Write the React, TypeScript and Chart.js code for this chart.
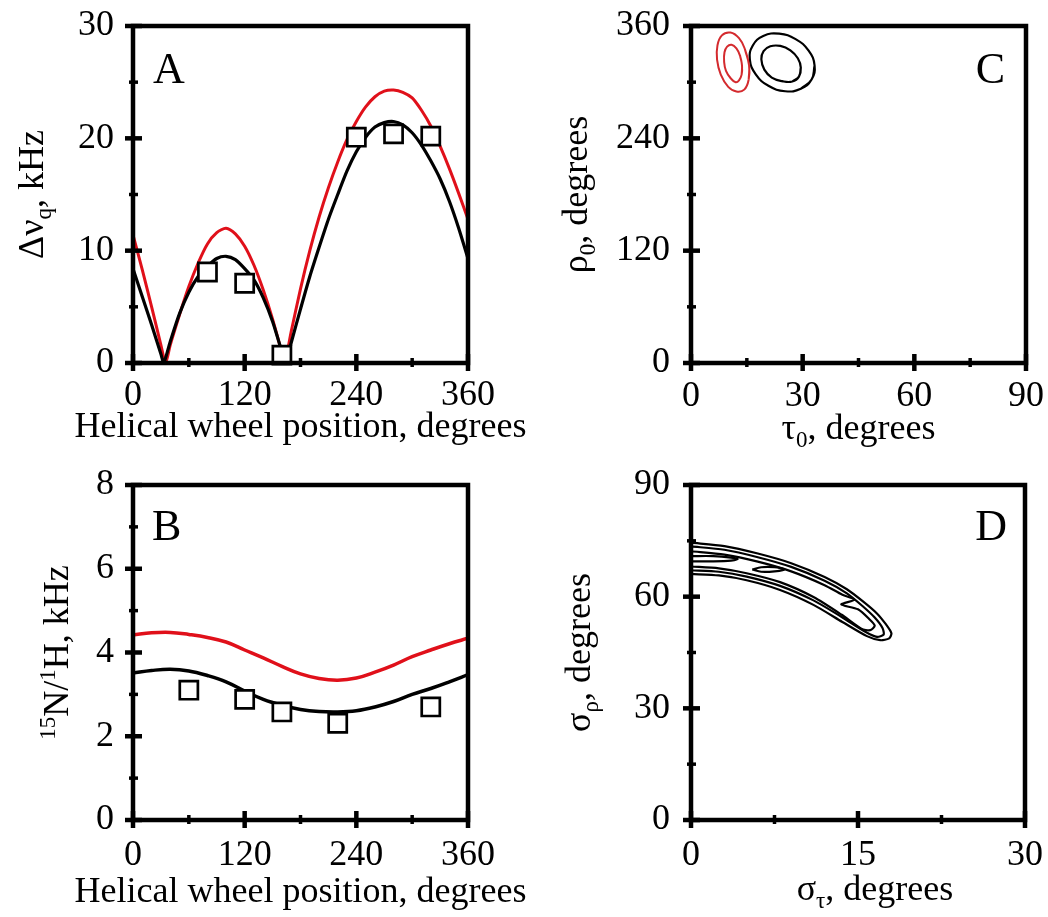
import { useEffect, useRef } from 'react';
import { Chart, registerables } from 'chart.js';
Chart.register(...registerables);

const FONT = '"Liberation Serif", "Times New Roman", serif';

// ---------- Panel A : quadrupolar splittings ----------
const A_BLACK_X = [0,10,20,30,33,40,50,60,70,80,90,100,110,120,130,140,150,160,164,170,180,190,200,210,220,230,240,250,260,270,280,290,300,310,320,330,340,350,360];
const A_BLACK_Y = [8.4,5.9,3.4,0.8,0,1.9,4.4,6.3,7.7,8.6,9.3,9.5,9.2,8.4,7.4,5.8,3.7,1.0,0,1.8,4.8,7.7,10.3,12.8,15.0,17.1,18.8,20.1,21.0,21.4,21.5,21.2,20.5,19.4,18.0,16.4,14.4,12.0,9.3];
const A_RED_X = [0,10,20,30,35,40,50,60,70,80,90,100,110,120,130,140,150,160,163,170,180,190,200,210,220,230,240,250,260,270,280,290,300,310,320,330,340,350,360];
const A_RED_Y = [11.4,8.3,5.0,1.6,0,1.6,4.3,6.8,8.9,10.6,11.6,12.0,11.5,10.4,8.7,6.5,3.9,0.9,0,2.8,6.6,10.0,13.0,15.6,17.9,19.9,21.5,22.8,23.7,24.2,24.3,24.1,23.6,22.5,21.1,19.3,17.3,15.1,12.8];
const A_PTS_X = [80,120,160,240,280,320];
const A_PTS_Y = [8.1,7.1,0.7,20.1,20.4,20.2];

// ---------- Panel B : 15N/1H dipolar couplings ----------
const B_X = [0,20,40,60,80,100,120,140,160,180,200,220,240,260,280,300,320,340,360];
const B_BLACK = [3.51,3.57,3.60,3.56,3.45,3.30,3.08,2.88,2.74,2.64,2.59,2.58,2.61,2.70,2.83,3.00,3.14,3.30,3.47];
const B_RED = [4.42,4.47,4.48,4.43,4.36,4.25,4.06,3.87,3.67,3.49,3.38,3.34,3.39,3.53,3.70,3.90,4.06,4.21,4.34];
const B_PTS_X = [60,120,160,220,320];
const B_PTS_Y = [3.10,2.88,2.58,2.31,2.70];

// ---------- Panel C : tau0 / rho0 contours ----------
type Pt = [number, number];
const C_RED_OUTER: Pt[] = [[15.6,318],[15.5,303],[14.3,292],[12.2,290],[10.0,295],[8.0,308],[7.0,324],[7.1,339],[8.3,350],[10.6,353],[12.9,347],[14.5,335]];
const C_RED_INNER: Pt[] = [[13.7,318],[13.6,308],[12.9,302],[12.0,300],[10.7,304],[9.4,312],[8.9,322],[9.0,332],[9.7,338],[10.9,340],[12.2,336],[13.2,328]];
const C_BLACK_OUTER: Pt[] = [[32.4,302.9],[29.5,292.9],[25.3,290.3],[20.8,296.1],[17.4,308.4],[15.8,324.3],[16.6,339.2],[19.4,349.3],[23.7,351.8],[28.1,346.0],[31.6,333.6],[33.2,317.8]];
const C_BLACK_INNER: Pt[] = [[29.0,306.0],[27.2,300.7],[24.5,301.1],[21.7,304.9],[19.7,313.4],[18.9,324.4],[19.5,333.1],[21.3,338.3],[24.0,338.7],[26.7,334.0],[28.7,325.5],[29.5,315.6]];

// ---------- Panel D : sigma contours ----------
const D_C1: Pt[] = [[0,74.5],[3,73.6],[6,71.6],[9,69.0],[12,65.3],[14,62.0],[15.5,58.6],[16.7,55.5],[17.5,52.6],[18.0,50.2],[17.8,48.8],[17.0,48.3],[15.8,49.4],[13.6,53.2],[11,57.8],[8,61.8],[5,64.4],[2.5,65.7],[0,66.1]];
const D_C2: Pt[] = [[0,73.5],[3,72.6],[6,70.6],[9,68.0],[12,64.3],[14,60.9],[15.4,57.5],[16.5,54.4],[17.2,51.6],[17.3,49.8],[16.7,49.2],[15.7,50.5],[13.5,54.6],[11,59.0],[8,62.9],[5,65.4],[2.5,66.7],[0,67.1]];
const D_C3: Pt[] = [[0,72.2],[3,71.3],[6,69.4],[9,66.8],[12,63.1],[13.6,60.5],[14.7,59.2],[13.5,57.9],[15.0,56.6],[16.0,54.0],[16.5,52.2],[16.1,51.0],[15.3,51.4],[13.5,55.2],[11,59.9],[8,63.9],[5,66.3],[2.5,67.6],[0,68.1]];
const D_I1: Pt[] = [[0,70.9],[2,70.9],[3.6,70.5],[4.2,70.1],[3.6,69.7],[2,69.5],[0,69.5]];
const D_I2: Pt[] = [[5.5,67.3],[6.3,67.9],[7.5,67.9],[8.4,67.3],[7.5,66.8],[6.3,66.7],[5.5,67.3]];

// ---------- tick values ----------
const HELIX_TICKS = [0,120,240,360];
const HELIX_MINOR = [60,180,300];
const A_Y_TICKS = [0,10,20,30];
const A_Y_MINOR = [5,15,25];
const B_Y_TICKS = [0,2,4,6,8];
const B_Y_MINOR = [1,3,5,7];
const C_X_TICKS = [0,30,60,90];
const C_X_MINOR = [15,45,75];
const C_Y_TICKS = [0,120,240,360];
const C_Y_MINOR = [60,180,300];
const D_X_TICKS = [0,15,30];
const D_X_MINOR = [7.5,22.5];
const D_Y_TICKS = [0,30,60,90];
const D_Y_MINOR = [15,45,75];

type Part = { t: string; s?: 'sub' | 'sup' };

const HELIX_TITLE: Part[] = [{ t: 'Helical wheel position, degrees' }];
const A_Y_TITLE: Part[] = [{ t: '\u0394\u03bd' }, { t: 'q', s: 'sub' }, { t: ', kHz' }];
const B_Y_TITLE: Part[] = [{ t: '15', s: 'sup' }, { t: 'N/' }, { t: '1', s: 'sup' }, { t: 'H, kHz' }];
const C_X_TITLE: Part[] = [{ t: '\u03c4' }, { t: '0', s: 'sub' }, { t: ', degrees' }];
const C_Y_TITLE: Part[] = [{ t: '\u03c1' }, { t: '0', s: 'sub' }, { t: ', degrees' }];
const D_X_TITLE: Part[] = [{ t: '\u03c3' }, { t: '\u03c4', s: 'sub' }, { t: ', degrees' }];
const D_Y_TITLE: Part[] = [{ t: '\u03c3' }, { t: '\u03c1', s: 'sub' }, { t: ', degrees' }];

const RED = '#e0101a';
const CRED = '#d42a2e';

const xy = (xs: number[], ys: number[]) => xs.map((x, i) => ({ x, y: ys[i] }));
const pts = (p: Pt[]) => p.map(([x, y]) => ({ x, y }));
const loop = (p: Pt[]) => pts([p[p.length - 1], ...p, p[0], p[1]]);

const lineDs = (data: any[], color: string, width: number, tension: number) => ({
  data, showLine: true, pointRadius: 0, borderColor: color, borderWidth: width, tension, fill: false,
});
const squareDs = (data: any[]) => ({
  data, showLine: false, pointStyle: 'rect', pointRadius: 12.8, pointBackgroundColor: '#fff',
  pointBorderColor: '#000', pointBorderWidth: 2.7, clip: 12,
});

function drawRich(ctx: CanvasRenderingContext2D, parts: Part[], cx: number, cy: number, size: number, rotate: boolean) {
  ctx.save();
  ctx.translate(cx, cy);
  if (rotate) ctx.rotate(-Math.PI / 2);
  ctx.textBaseline = 'alphabetic';
  ctx.textAlign = 'left';
  const sz = (p: Part) => (p.s ? size * 0.64 : size);
  let w = 0;
  for (const p of parts) { ctx.font = `${sz(p)}px ${FONT}`; w += ctx.measureText(p.t).width; }
  let x = -w / 2;
  for (const p of parts) {
    ctx.font = `${sz(p)}px ${FONT}`;
    const dy = p.s === 'sub' ? size * 0.22 : p.s === 'sup' ? -size * 0.36 : 0;
    ctx.fillText(p.t, x, dy);
    x += ctx.measureText(p.t).width;
  }
  ctx.restore();
}

interface Spec {
  key: string; left: number; top: number; w: number; h: number;
  area: { l: number; t: number; r: number; b: number };
  x: [number, number]; y: [number, number];
  xTicks: number[]; xMinor: number[]; yTicks: number[]; yMinor: number[];
  xPad: number; yPad: number;
  xTitle: Part[]; yTitle: Part[]; xTitleOff: number; xTitleDx: number; yTitleOff: number;
  letter: string; letterRight: boolean; letterDx: number; letterDy: number;
  datasets: any[];
}

const SPECS: Spec[] = [
  {
    key: 'A', left: 0, top: 0, w: 545, h: 460, area: { l: 133, t: 26, r: 468, b: 363 },
    x: [0, 360], y: [0, 30], xTicks: HELIX_TICKS, xMinor: HELIX_MINOR, yTicks: A_Y_TICKS, yMinor: A_Y_MINOR,
    xPad: 11, yPad: 19, xTitle: HELIX_TITLE, yTitle: A_Y_TITLE, xTitleOff: 74, xTitleDx: 0, yTitleOff: 90,
    letter: 'A', letterRight: false, letterDx: 20, letterDy: 57,
    datasets: [squareDs(xy(A_PTS_X, A_PTS_Y)), lineDs(xy(A_BLACK_X, A_BLACK_Y), '#000', 3.2, 0.25), lineDs(xy(A_RED_X, A_RED_Y), RED, 3, 0.25)],
  },
  {
    key: 'B', left: 0, top: 460, w: 545, h: 457, area: { l: 133, t: 25, r: 468, b: 360 },
    x: [0, 360], y: [0, 8], xTicks: HELIX_TICKS, xMinor: HELIX_MINOR, yTicks: B_Y_TICKS, yMinor: B_Y_MINOR,
    xPad: 14, yPad: 19, xTitle: HELIX_TITLE, yTitle: B_Y_TITLE, xTitleOff: 82, xTitleDx: 0, yTitleOff: 65,
    letter: 'B', letterRight: false, letterDx: 19, letterDy: 55,
    datasets: [squareDs(xy(B_PTS_X, B_PTS_Y)), lineDs(xy(B_X, B_BLACK), '#000', 3.5, 0.4), lineDs(xy(B_X, B_RED), RED, 3.5, 0.4)],
  },
  {
    key: 'C', left: 545, top: 0, w: 503, h: 460, area: { l: 146, t: 26, r: 481, b: 363 },
    x: [0, 90], y: [0, 360], xTicks: C_X_TICKS, xMinor: C_X_MINOR, yTicks: C_Y_TICKS, yMinor: C_Y_MINOR,
    xPad: 12, yPad: 21, xTitle: C_X_TITLE, yTitle: C_Y_TITLE, xTitleOff: 76, xTitleDx: 0, yTitleOff: 104,
    letter: 'C', letterRight: true, letterDx: 21, letterDy: 57,
    datasets: [
      lineDs(loop(C_RED_OUTER), CRED, 2, 0.45), lineDs(loop(C_RED_INNER), CRED, 2, 0.45),
      lineDs(loop(C_BLACK_OUTER), '#000', 2.2, 0.45), lineDs(loop(C_BLACK_INNER), '#000', 2.2, 0.45),
    ],
  },
  {
    key: 'D', left: 545, top: 460, w: 503, h: 457, area: { l: 146, t: 25, r: 480, b: 360 },
    x: [0, 30], y: [0, 90], xTicks: D_X_TICKS, xMinor: D_X_MINOR, yTicks: D_Y_TICKS, yMinor: D_Y_MINOR,
    xPad: 14, yPad: 21, xTitle: D_X_TITLE, yTitle: D_Y_TITLE, xTitleOff: 80, xTitleDx: 17, yTitleOff: 101,
    letter: 'D', letterRight: true, letterDx: 18, letterDy: 55,
    datasets: [
      lineDs(pts(D_C1), '#000', 2.2, 0.25), lineDs(pts(D_C2), '#000', 2.2, 0.25), lineDs(pts(D_C3), '#000', 2.2, 0.25),
      lineDs(pts(D_I1), '#000', 2.2, 0.3), lineDs(pts(D_I2), '#000', 2.2, 0.3),
    ],
  },
];

function framePlugin(s: Spec) {
  return {
    id: 'frame' + s.key,
    afterDraw(chart: any) {
      const { ctx, chartArea: a } = chart;
      const xs = chart.scales.x, ys = chart.scales.y;
      ctx.save();
      ctx.strokeStyle = '#000';
      ctx.lineCap = 'butt';
      const xt = (vals: number[], out: number, inn: number, w: number) => {
        ctx.lineWidth = w;
        for (const v of vals) {
          const p = xs.getPixelForValue(v);
          ctx.beginPath(); ctx.moveTo(p, a.bottom + out); ctx.lineTo(p, a.bottom - inn); ctx.stroke();
        }
      };
      const yt = (vals: number[], out: number, inn: number, w: number) => {
        ctx.lineWidth = w;
        for (const v of vals) {
          const p = ys.getPixelForValue(v);
          ctx.beginPath(); ctx.moveTo(a.left - out, p); ctx.lineTo(a.left + inn, p); ctx.stroke();
        }
      };
      xt(s.xTicks, 8, 9, 4.5); xt(s.xMinor, 4, 5, 3.5);
      yt(s.yTicks, 8, 9, 4.5); yt(s.yMinor, 4, 5, 3.5);
      ctx.lineWidth = 4.5;
      ctx.strokeRect(a.left, a.top, a.right - a.left, a.bottom - a.top);
      ctx.fillStyle = '#000';
      drawRich(ctx, s.xTitle, (a.left + a.right) / 2 + s.xTitleDx, a.bottom + s.xTitleOff, 36, false);
      drawRich(ctx, s.yTitle, a.left - s.yTitleOff, (a.top + a.bottom) / 2, 36, true);
      ctx.font = `44px ${FONT}`;
      ctx.textBaseline = 'alphabetic';
      if (s.letterRight) { ctx.textAlign = 'right'; ctx.fillText(s.letter, a.right - s.letterDx, a.top + s.letterDy); }
      else { ctx.textAlign = 'left'; ctx.fillText(s.letter, a.left + s.letterDx, a.top + s.letterDy); }
      ctx.restore();
    },
  };
}

function buildConfig(s: Spec): any {
  const tickFont = { family: FONT, size: 36 };
  return {
    type: 'scatter',
    data: { datasets: s.datasets },
    plugins: [framePlugin(s)],
    options: {
      responsive: false,
      animation: false,
      events: [],
      layout: { padding: { left: 0, top: s.area.t, right: s.w - s.area.r, bottom: 0 } },
      plugins: { legend: { display: false }, tooltip: { enabled: false } },
      scales: {
        x: {
          type: 'linear', min: s.x[0], max: s.x[1],
          afterBuildTicks: (sc: any) => { sc.ticks = s.xTicks.map((v) => ({ value: v })); },
          afterFit: (sc: any) => {
            sc.height = s.h - s.area.b;
            sc.paddingLeft = 0; sc.paddingRight = 0; sc.paddingTop = 0; sc.paddingBottom = 0;
          },
          grid: { display: false, drawTicks: false }, border: { display: false },
          ticks: { font: tickFont, color: '#000', padding: s.xPad, maxRotation: 0, autoSkip: false },
        },
        y: {
          type: 'linear', min: s.y[0], max: s.y[1],
          afterBuildTicks: (sc: any) => { sc.ticks = s.yTicks.map((v) => ({ value: v })); },
          afterFit: (sc: any) => {
            sc.width = s.area.l;
            sc.paddingLeft = 0; sc.paddingRight = 0; sc.paddingTop = 0; sc.paddingBottom = 0;
          },
          grid: { display: false, drawTicks: false }, border: { display: false },
          ticks: { font: tickFont, color: '#000', padding: s.yPad, autoSkip: false },
        },
      },
    },
  };
}

export default function App() {
  const refs = [useRef<HTMLCanvasElement>(null), useRef<HTMLCanvasElement>(null), useRef<HTMLCanvasElement>(null), useRef<HTMLCanvasElement>(null)];
  useEffect(() => {
    const charts = SPECS.map((s, i) => new Chart(refs[i].current as HTMLCanvasElement, buildConfig(s)));
    return () => charts.forEach((c) => c.destroy());
  }, []);
  return (
    <div style={{ position: 'absolute', left: 0, top: 0, width: 1048, height: 917, background: '#fff', overflow: 'hidden' }}>
      {SPECS.map((s, i) => (
        <canvas key={s.key} ref={refs[i]} width={s.w} height={s.h}
          style={{ position: 'absolute', left: s.left, top: s.top, width: s.w, height: s.h }} />
      ))}
    </div>
  );
}
